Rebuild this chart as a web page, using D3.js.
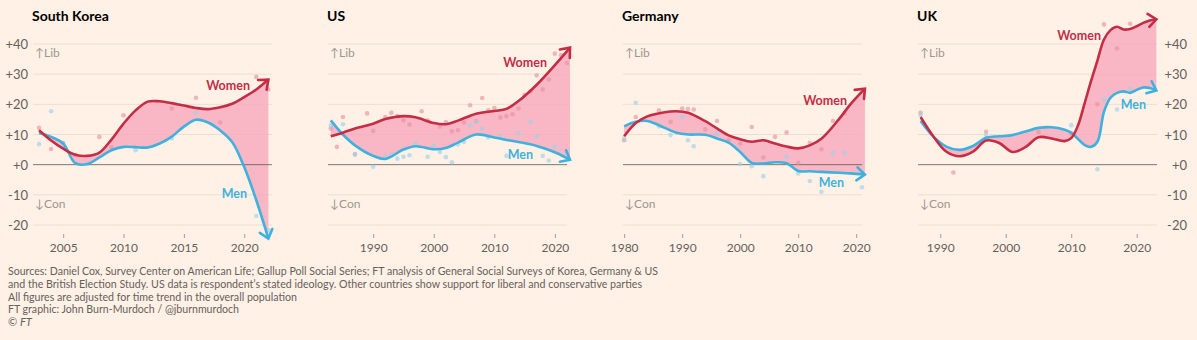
<!DOCTYPE html>
<html>
<head>
<meta charset="utf-8">
<script src="https://cdn.jsdelivr.net/npm/d3@7"></script>
<style>
  body { margin: 0; background: #fff1e5; }
  svg { display: block; font-family: Lato, "Noto Sans", sans-serif; }
</style>
</head>
<body>
<svg id="chart" width="1197" height="340"></svg>
<script>
// Smoothed trend, women minus men support (liberal minus conservative)
const skYears = [2003, 2004, 2005, 2006, 2007, 2008, 2009, 2010, 2011, 2012, 2013, 2014, 2015, 2016, 2017, 2018, 2019, 2020, 2021, 2022];
const skWomen = [11.4, 8.0, 5.3, 3.3, 2.9, 4.0, 8.3, 13.6, 18.0, 20.9, 21.0, 20.4, 19.6, 18.8, 18.4, 19.0, 20.2, 22.4, 24.9, 28.2];
const skMen = [10.5, 9.2, 7.0, 0.5, 0.2, 2.4, 4.8, 5.9, 5.8, 5.7, 7.0, 9.3, 12.6, 14.9, 14.0, 11.4, 7.5, -0.8, -11.8, -24.5];

const usYears = [1983, 1985, 1987, 1990, 1992, 1995, 1997, 2000, 2002, 2004, 2007, 2010, 2012, 2014, 2017, 2020, 2022.5];
const usWomen = [9.4, 10.6, 12.0, 13.6, 15.1, 16.1, 15.7, 13.8, 13.4, 14.6, 16.9, 17.8, 18.5, 21.1, 26.5, 33.0, 38.8];
const usMen = [14.7, 10.0, 6.4, 2.9, 1.9, 5.0, 6.1, 5.1, 5.5, 7.3, 10.0, 9.0, 8.2, 7.5, 6.2, 4.1, 1.6];

const deYears = [1980, 1982, 1984, 1987, 1989, 1991, 1994, 1996, 1998, 2000, 2002, 2004, 2006, 2008, 2010, 2012, 2014, 2017, 2019, 2021.5];
const deWomen = [9.4, 13.8, 16.0, 17.4, 17.7, 17.2, 14.4, 12.0, 9.7, 8.4, 7.6, 8.1, 7.0, 6.0, 5.4, 6.4, 8.6, 15.0, 20.0, 25.2];
const deMen = [12.7, 14.2, 14.5, 12.2, 10.6, 10.0, 9.9, 8.7, 7.3, 4.2, 0.6, 0.4, 0.8, 0.5, -2.1, -2.2, -2.4, -2.7, -2.9, -3.3];

const ukYears = [1987, 1989, 1991, 1993, 1995, 1997, 1999, 2001, 2003, 2005, 2007, 2009, 2010, 2011, 2012, 2013, 2014, 2015, 2016, 2017, 2018, 2019, 2020, 2021, 2022, 2023];
const ukWomen = [15.8, 9.2, 4.2, 2.8, 4.3, 8.0, 7.2, 4.2, 5.8, 9.1, 8.7, 7.8, 8.8, 12.8, 20.0, 27.5, 34.5, 41.5, 44.6, 45.7, 44.8, 45.0, 45.9, 47.0, 47.8, 48.2];
const ukMen = [14.5, 9.2, 5.9, 4.9, 6.2, 8.9, 9.4, 9.8, 11.0, 12.2, 12.4, 11.6, 10.6, 8.6, 6.6, 5.9, 7.6, 17.5, 22.2, 23.8, 24.3, 23.8, 24.8, 25.6, 25.4, 24.6];

// Yearly survey readings [year, value]
const skWomenDots = [[2003, 12.2], [2004, 5.2], [2005, 7.2], [2006, 3.2], [2008, 9.2], [2009, 5.8], [2010, 16.4], [2014, 18.6], [2016, 22.2], [2018, 14.0], [2021, 29.1], [2022, 24.9]];
const skMenDots = [[2003, 6.8], [2004, 17.7], [2005, 6.5], [2007, 0.2], [2011, 4.8], [2014, 8.7], [2016, 17.3], [2021, -17.0], [2022, -21.7]];

const usWomenDots = [[1983, 12.0], [1984, 5.9], [1985, 15.8], [1987, 3.4], [1989, 17.0], [1990, 11.2], [1992, 15.8], [1993, 17.2], [1994, 16.1], [1995, 14.7], [1996, 13.3], [1998, 17.7], [1999, 14.7], [2001, 12.7], [2002, 14.1], [2003, 11.1], [2004, 11.4], [2005, 14.0], [2006, 19.7], [2007, 14.4], [2008, 22.1], [2009, 18.0], [2010, 18.8], [2011, 15.6], [2012, 16.1], [2013, 16.7], [2014, 18.6], [2015, 23.2], [2016, 24.3], [2017, 29.6], [2018, 24.9], [2019, 28.2], [2020, 36.8], [2021, 36.3], [2022, 33.7]];
const usMenDots = [[1983, 13.0], [1985, 13.4], [1987, 3.4], [1990, -0.7], [1992, 2.6], [1993, 3.5], [1994, 2.0], [1995, 2.6], [1996, 3.1], [1997, 6.8], [1999, 2.6], [2000, 6.4], [2001, 4.2], [2002, 2.5], [2003, 0.8], [2004, 6.7], [2005, 7.5], [2006, 13.0], [2007, 14.2], [2008, 12.0], [2009, 9.0], [2011, 9.5], [2012, 2.9], [2014, 10.5], [2016, 14.2], [2017, 9.5], [2018, 2.9], [2019, 1.4], [2020, 5.9], [2022, 4.3]];

const deWomenDots = [[1980, 8.1], [1982, 15.8], [1986, 18.0], [1988, 14.2], [1990, 18.6], [1991, 18.4], [1992, 18.3], [1994, 11.7], [1996, 14.5], [1998, 8.1], [2000, 7.0], [2002, 12.5], [2004, 2.4], [2006, 9.2], [2008, 10.7], [2010, 0.6], [2012, 7.2], [2014, 5.1], [2016, 14.5], [2018, 17.0]];
const deMenDots = [[1980, 8.7], [1982, 20.5], [1986, 12.7], [1988, 9.8], [1990, 15.8], [1991, 8.1], [1992, 6.1], [1996, 10.3], [2000, 0.2], [2002, -0.5], [2004, -3.8], [2008, 2.6], [2010, -2.9], [2012, -5.4], [2014, -9.0], [2016, 3.9], [2018, 3.9], [2021, -7.5]];

const ukWomenDots = [[1987, 17.2], [1992, -2.6], [1997, 10.9], [2005, 10.8], [2010, 10.3], [2014, 20.0], [2015, 46.5], [2017, 38.5], [2019, 46.7]];
const ukMenDots = [[1987, 16.5], [1997, 9.8], [2010, 13.1], [2014, -1.5], [2015, 21.6], [2017, 18.3], [2019, 25.2]];

const yTicks = [-20, -10, 0, 10, 20, 30, 40];
const skTicks = [2005, 2010, 2015, 2020];
const usTicks = [1990, 2000, 2010, 2020];
const deTicks = [1980, 1990, 2000, 2010, 2020];
const ukTicks = [1990, 2000, 2010, 2020];

const WOMEN = "#c42d44";
const MEN = "#3fb1de";
const GREY = "#66605c";

const panels = [
  { title: "South Korea", years: skYears, women: skWomen, men: skMen, wDots: skWomenDots, mDots: skMenDots, domain: [2002.5, 2022.3], ticks: skTicks, yAxis: "left", wLabel: [217, 90], mLabel: [214, 198] },
  { title: "US", years: usYears, women: usWomen, men: usMen, wDots: usWomenDots, mDots: usMenDots, domain: [1982.54, 2022], ticks: usTicks, yAxis: null, wLabel: [219, 67], mLabel: [205, 159] },
  { title: "Germany", years: deYears, women: deWomen, men: deMen, wDots: deWomenDots, mDots: deMenDots, domain: [1979.8, 2021], ticks: deTicks, yAxis: null, wLabel: [224, 105], mLabel: [221, 187] },
  { title: "UK", years: ukYears, women: ukWomen, men: ukMen, wDots: ukWomenDots, mDots: ukMenDots, domain: [1986.6, 2023.1], ticks: ukTicks, yAxis: "right", wLabel: [183, 40], mLabel: [228, 109] }
];

const svg = d3.select("#chart");
const panelW = 239, panelStep = 295, firstLeft = 33;

const y = d3.scaleLinear().domain([-20, 40]).range([225, 44]);
const curve = d3.curveCatmullRom.alpha(0.5);

// arrowheads drawn as open chevrons at the end of each trend line
const defs = svg.append("defs");
[["arrow-women", WOMEN], ["arrow-men", MEN]].forEach(([id, color]) => {
  defs.append("marker")
    .attr("id", id)
    .attr("viewBox", "-12 -10 16 20")
    .attr("markerWidth", 16)
    .attr("markerHeight", 20)
    .attr("markerUnits", "userSpaceOnUse")
    .attr("refX", 0)
    .attr("refY", 0)
    .attr("orient", "auto")
    .style("overflow", "visible")
    .append("path")
    .attr("d", "M-8,-6.5L0,0L-8,6.5")
    .attr("fill", "none")
    .attr("stroke", color)
    .attr("stroke-width", 2.6)
    .attr("stroke-linecap", "round");
});

const fmt = (d) => (d >= 0 ? "+" : "") + d;

panels.forEach((p, i) => {
  const left = firstLeft + i * panelStep;
  const x = d3.scaleLinear().domain(p.domain).range([left, left + panelW]);
  const g = svg.append("g");

  // title
  g.append("text")
    .attr("x", left - 1)
    .attr("y", 21)
    .attr("font-size", 14)
    .attr("font-weight", 700)
    .attr("fill", "#000")
    .text(p.title);

  // gridlines
  g.selectAll(".grid")
    .data(yTicks.filter((d) => d !== 0))
    .join("line")
    .attr("x1", left)
    .attr("x2", left + panelW)
    .attr("y1", (d) => y(d))
    .attr("y2", (d) => y(d))
    .attr("stroke", "#ebdfd4")
    .attr("stroke-width", 1);

  // y labels on the outer panels
  if (p.yAxis) {
    const right = p.yAxis === "right";
    g.selectAll(".ylab")
      .data(yTicks)
      .join("text")
      .attr("x", right ? left + panelW + 30 : left - 5)
      .attr("y", (d) => y(d) + 5)
      .attr("text-anchor", "end")
      .attr("font-size", 13)
      .attr("fill", GREY)
      .text(fmt);
  }

  g.append("text")
    .attr("x", left + 2)
    .attr("y", 57)
    .attr("font-size", 12)
    .attr("fill", "#9e9690")
    .text("↑Lib");
  g.append("text")
    .attr("x", left + 2)
    .attr("y", 208)
    .attr("font-size", 12)
    .attr("fill", "#9e9690")
    .text("↓Con");

  // x axis
  const axis = g.append("g")
    .attr("transform", `translate(0,234)`)
    .call(d3.axisBottom(x).tickValues(p.ticks).tickSize(4).tickPadding(5.5).tickFormat(d3.format("d")));
  axis.select(".domain").remove();
  axis.selectAll(".tick line").attr("stroke", "#a59d97");
  axis.selectAll(".tick text")
    .attr("font-family", "Lato, 'Noto Sans', sans-serif")
    .attr("font-size", 12)
    .attr("fill", GREY);

  const rows = p.years.map((yr, k) => ({ yr, w: p.women[k], m: p.men[k] }));

  // gap between women and men
  g.append("path")
    .datum(rows)
    .attr("d", d3.area().x((d) => x(d.yr)).y0((d) => y(d.m)).y1((d) => y(d.w)).curve(curve))
    .attr("fill", "#f7a8bd")
    .attr("fill-opacity", 0.8);

  // zero line
  g.append("line")
    .attr("x1", left)
    .attr("x2", left + panelW)
    .attr("y1", y(0))
    .attr("y2", y(0))
    .attr("stroke", GREY)
    .attr("stroke-opacity", 0.85)
    .attr("stroke-width", 1);

  // survey points
  g.selectAll(".wdot")
    .data(p.wDots)
    .join("circle")
    .attr("cx", (d) => x(d[0]))
    .attr("cy", (d) => y(d[1]))
    .attr("r", 2.3)
    .attr("fill", "#e28f9d")
    .attr("fill-opacity", 0.6);
  g.selectAll(".mdot")
    .data(p.mDots)
    .join("circle")
    .attr("cx", (d) => x(d[0]))
    .attr("cy", (d) => y(d[1]))
    .attr("r", 2.3)
    .attr("fill", "#9dd2ea")
    .attr("fill-opacity", 0.65);

  // trend lines
  [["m", MEN, "arrow-men"], ["w", WOMEN, "arrow-women"]].forEach(([key, color, marker]) => {
    g.append("path")
      .datum(rows)
      .attr("d", d3.line().x((d) => x(d.yr)).y((d) => y(d[key])).curve(curve))
      .attr("fill", "none")
      .attr("stroke", color)
      .attr("stroke-width", 2.6)
      .attr("marker-end", `url(#${marker})`);
  });

  g.append("text")
    .attr("x", left + p.wLabel[0])
    .attr("y", p.wLabel[1])
    .attr("text-anchor", "end")
    .attr("font-size", 12.5)
    .attr("font-weight", 700)
    .attr("fill", WOMEN)
    .text("Women");
  g.append("text")
    .attr("x", left + p.mLabel[0])
    .attr("y", p.mLabel[1])
    .attr("text-anchor", "end")
    .attr("font-size", 12.5)
    .attr("font-weight", 700)
    .attr("fill", MEN)
    .text("Men");
});

// footnotes
const notes = [
  ["Sources: Daniel Cox, Survey Center on American Life; Gallup Poll Social Series; FT analysis of General Social Surveys of Korea, Germany & US", 650],
  ["and the British Election Study. US data is respondent\u2019s stated ideology. Other countries show support for liberal and conservative parties", 634],
  ["All figures are adjusted for time trend in the overall population", 289],
  ["FT graphic: John Burn-Murdoch / @jburnmurdoch", 231]
];
const foot = svg.append("g").attr("font-size", 11).attr("fill", GREY);
notes.forEach(([t, len], k) => {
  foot.append("text")
    .attr("x", 8)
    .attr("y", 275 + k * 12.8)
    .attr("textLength", len)
    .attr("lengthAdjust", "spacingAndGlyphs")
    .text(t);
});
const copy = foot.append("text").attr("x", 8).attr("y", 275 + 4 * 12.8);
copy.append("tspan").text("\u00a9 ");
copy.append("tspan").attr("font-style", "italic").text("FT");
</script>
</body>
</html>
